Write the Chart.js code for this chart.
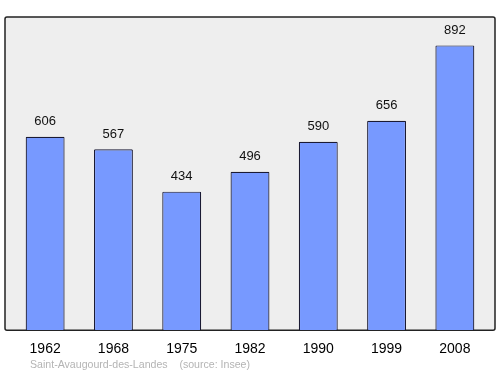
<!DOCTYPE html>
<html>
<head>
<meta charset="utf-8">
<script src="https://cdn.jsdelivr.net/npm/chart.js@4"></script>
<style>
  html, body { margin: 0; padding: 0; background: #fff; }
  #wrap { width: 500px; height: 374px; position: relative; }
</style>
</head>
<body>
<div id="wrap"><canvas id="popChart" width="500" height="374"></canvas></div>
<script>
// Population data
const years = ['1962', '1968', '1975', '1982', '1990', '1999', '2008'];
const population = [606, 567, 434, 496, 590, 656, 892];
const footerText = 'Saint-Avaugourd-des-Landes    (source: Insee)';

// Gray framed background behind the bars
const frameBox = {
    id: 'frameBox',
    beforeDatasetsDraw(chart) {
        const { ctx, chartArea } = chart;
        const x = chartArea.left - 6, y = chartArea.top, w = chartArea.width + 12, h = chartArea.bottom - chartArea.top;
        ctx.save();
        ctx.fillStyle = '#eeeeee';
        ctx.strokeStyle = '#222';
        ctx.lineWidth = 1.5;
        ctx.beginPath();
        ctx.roundRect(x, y, w, h, 2);
        ctx.fill();
        ctx.stroke();
        ctx.restore();
    }
};

// Value labels above bars + footer
const barLabels = {
    id: 'barLabels',
    afterDatasetsDraw(chart) {
        const { ctx } = chart;
        const meta = chart.getDatasetMeta(0);
        ctx.save();
        ctx.font = '13px "Liberation Sans", Arial, sans-serif';
        ctx.fillStyle = '#111';
        ctx.textAlign = 'center';
        ctx.textBaseline = 'middle';
        meta.data.forEach((bar, i) => {
            ctx.fillText(population[i], bar.x, bar.y - 15);
        });
        ctx.font = '10.6px "Liberation Sans", Arial, sans-serif';
        ctx.fillStyle = '#b4b4b4';
        ctx.textAlign = 'left';
        ctx.fillText(footerText, 30, 365);
        ctx.restore();
    }
};

new Chart(document.getElementById('popChart').getContext('2d'), {
    type: 'bar',
    data: {
        labels: years,
        datasets: [{
            data: population,
            backgroundColor: '#7799ff',
            borderColor: '#1a1a33',
            borderWidth: 1.2,
            borderSkipped: 'bottom',
            borderRadius: 1,
            categoryPercentage: 1,
            barPercentage: 0.57
        }]
    },
    options: {
        responsive: false,
        animation: false,
        layout: { padding: { left: 11, right: 11, top: 17, bottom: 13 } },
        plugins: { legend: { display: false }, tooltip: { enabled: false } },
        scales: {
            y: { display: false, min: 0, max: 981 },
            x: {
                grid: { display: false },
                border: { display: false },
                ticks: {
                    color: '#000',
                    font: { size: 14, family: '"Liberation Sans", Arial, sans-serif' },
                    padding: 3,
                    maxRotation: 0
                }
            }
        }
    },
    plugins: [frameBox, barLabels]
});
</script>
</body>
</html>
